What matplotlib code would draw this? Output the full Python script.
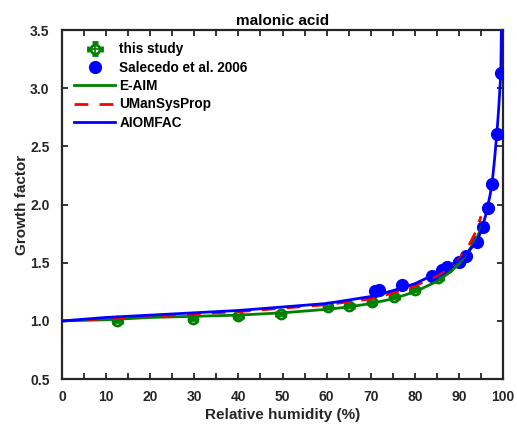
import numpy as np
import matplotlib
matplotlib.use('Agg')
import matplotlib.pyplot as plt
from matplotlib.ticker import MultipleLocator

plt.rcParams['font.family'] = ['Liberation Sans', 'DejaVu Sans']
plt.rcParams['font.weight'] = 'bold'

# this study (HTDMA)
study_rh = [12.5, 29.7, 40.0, 49.6, 60.3, 65.1, 70.3, 75.3, 80.0, 85.3, 90.2]
study_gf = [1.00, 1.02, 1.04, 1.06, 1.12, 1.13, 1.16, 1.21, 1.27, 1.37, 1.51]

# Salcedo et al. 2006
sal_rh = [71.0, 71.9, 77.1, 83.9, 86.2, 87.3, 90.0, 91.6, 94.1, 95.5, 96.6, 97.5, 98.6, 99.5]
sal_gf = [1.26, 1.27, 1.31, 1.39, 1.44, 1.46, 1.51, 1.56, 1.68, 1.81, 1.97, 2.18, 2.61, 3.13]

# model curves
eaim_rh = [0, 10, 20, 30, 40, 50, 60, 65, 70, 75, 80, 85, 88, 90, 92, 94, 95.2]
eaim_gf = [1.00, 1.01, 1.03, 1.04, 1.05, 1.07, 1.10, 1.12, 1.15, 1.19, 1.25, 1.34, 1.42, 1.49, 1.59, 1.71, 1.81]

umsp_rh = [0, 10, 20, 30, 40, 50, 60, 70, 75, 80, 85, 88, 90, 92, 94, 95]
umsp_gf = [1.00, 1.02, 1.04, 1.06, 1.08, 1.11, 1.14, 1.19, 1.24, 1.30, 1.39, 1.46, 1.53, 1.63, 1.78, 1.90]

aiom_rh = [0, 10, 20, 30, 40, 50, 60, 70, 75, 80, 85, 88, 90, 92, 94, 95, 96, 97, 97.5, 98, 98.6, 99, 99.5, 99.62]
aiom_gf = [1.00, 1.03, 1.05, 1.07, 1.09, 1.12, 1.15, 1.21, 1.26, 1.32, 1.41, 1.48, 1.52, 1.59, 1.68, 1.77, 1.90, 2.07, 2.18, 2.36, 2.61, 2.82, 3.13, 3.5]

fig = plt.figure(figsize=(5.17, 4.25), dpi=100)
ax = fig.add_axes([0.12, 0.108, 0.853, 0.821])

h1 = ax.errorbar(study_rh, study_gf, xerr=1.0, yerr=0.012, fmt='o', color='#008000',
                 mfc='none', mew=2, ms=6.5, elinewidth=1.2, capsize=2.5, zorder=3)
h2, = ax.plot(sal_rh, sal_gf, 'o', color='#0000ff', ms=8.5, zorder=4)
h3, = ax.plot(eaim_rh, eaim_gf, '-', color='#008000', lw=2, zorder=5)
h4, = ax.plot(umsp_rh, umsp_gf, '--', color='#ff0000', lw=2, dashes=(5, 4), zorder=5)
h5, = ax.plot(aiom_rh, aiom_gf, '-', color='#0000ff', lw=2, zorder=6)

ax.set_xlim(0, 100)
ax.set_ylim(0.5, 3.5)
ax.xaxis.set_major_locator(MultipleLocator(10))
ax.xaxis.set_minor_locator(MultipleLocator(5))
ax.yaxis.set_major_locator(MultipleLocator(0.5))
ax.yaxis.set_major_formatter(plt.FormatStrFormatter('%.1f'))
ax.tick_params(which='both', direction='in', top=True, right=True, length=4,
               width=1.3, color='#262626', labelsize=10, labelcolor='#262626')
ax.tick_params(axis='x', pad=8)
ax.tick_params(axis='y', pad=9)
for sp in ax.spines.values():
    sp.set_linewidth(1.6)
    sp.set_color('#262626')

ax.set_xlabel('Relative humidity (%)', fontsize=11, fontweight='bold', color='#262626', labelpad=3)
ax.set_ylabel('Growth factor', fontsize=11, fontweight='bold', color='#262626', labelpad=1)
ax.set_title('malonic acid', fontsize=11, fontweight='bold', pad=4)

ax.legend([h1, h2, h3, h4, h5], ['this study', 'Salecedo et al. 2006', 'E-AIM', 'UManSysProp', 'AIOMFAC'],
          loc='upper left', frameon=False, fontsize=9.8, handlelength=3.0,
          borderaxespad=0.5, labelspacing=0.32, handletextpad=0.3)

fig.savefig('out.png', dpi=100)
